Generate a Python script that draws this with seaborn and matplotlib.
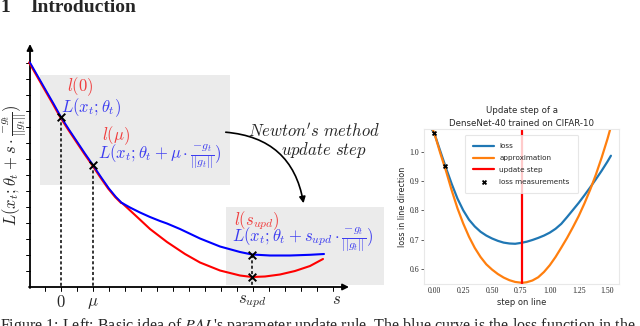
import numpy as np
import pandas as pd
import matplotlib
matplotlib.use("Agg")
import matplotlib.pyplot as plt
import seaborn as sns
from matplotlib.patches import Rectangle, FancyArrowPatch

# ---------------- data: right chart ----------------
step_blue = [-0.03, 0.0, 0.05, 0.1, 0.15, 0.2, 0.25, 0.3, 0.35, 0.4, 0.45, 0.5,
             0.55, 0.6, 0.65, 0.7, 0.75, 0.8, 0.85, 0.9, 0.95, 1.0, 1.05, 1.1,
             1.15, 1.2, 1.25, 1.3, 1.35, 1.4, 1.45, 1.5, 1.53]
loss_vals = [1.08, 1.062, 1.003, 0.945, 0.89, 0.84, 0.80, 0.768, 0.745, 0.727,
             0.714, 0.704, 0.696, 0.69, 0.687, 0.686, 0.689, 0.693, 0.699, 0.706,
             0.714, 0.724, 0.737, 0.754, 0.777, 0.801, 0.825, 0.851, 0.878, 0.906,
             0.935, 0.966, 0.986]
step_orange = [-0.02, 0.0, 0.05, 0.1, 0.15, 0.2, 0.25, 0.3, 0.35, 0.4, 0.45, 0.5,
               0.55, 0.6, 0.65, 0.7, 0.76, 0.8, 0.85, 0.9, 0.95, 1.0, 1.05, 1.1,
               1.15, 1.2, 1.25, 1.3, 1.35, 1.4, 1.45, 1.5, 1.525]
approx_vals = [1.08, 1.062, 0.996, 0.935, 0.868, 0.807, 0.755, 0.71, 0.672, 0.641,
               0.616, 0.598, 0.583, 0.571, 0.562, 0.556, 0.553, 0.555, 0.561, 0.572,
               0.59, 0.613, 0.641, 0.673, 0.706, 0.742, 0.78, 0.823, 0.87, 0.922,
               0.98, 1.043, 1.078]
update_step = 0.757
meas_steps = [0.0, 0.09]
meas_vals = [1.062, 0.95]
x_ticks = [0.00, 0.25, 0.50, 0.75, 1.00, 1.25, 1.50]
y_ticks = [0.6, 0.7, 0.8, 0.9, 1.0]

# ---------------- data: left schematic (diagram units) ----------------
shared_x = [30, 38, 46, 53.5, 61, 69, 77, 85, 93, 101, 109, 116, 122]
shared_y = [62.5, 76.5, 90.5, 103.5, 117, 129.5, 141.5, 153.5, 165, 177, 188.5, 197, 203]
blue_x = [122, 130, 140, 150, 160, 167, 180, 200, 220, 240, 252, 270, 290, 310, 324]
blue_y = [203, 207.5, 212.5, 217, 221, 223.5, 229, 238.5, 246.5, 252, 254.5, 255.5, 255.5, 254.8, 254]
red_x = [122, 135, 150, 167, 185, 200, 220, 240, 252, 265, 280, 295, 310, 323]
red_y = [203, 215, 229, 242, 254, 262.5, 270.5, 275.5, 277, 276.5, 274.5, 271, 266, 259]
probe_x = [61, 93]
probe_y = [117, 165]
upd_x = 252
upd_y = [254.5, 277]

sns.set_theme(style="white")
plt.rcParams['font.family'] = ['DejaVu Sans']

fig = plt.figure(figsize=(6.4, 3.26), dpi=100)

# overlay axes in pixel-like units for the schematic and page text
ov = fig.add_axes([0, 0, 1, 1])
ov.set_xlim(0, 640)
ov.set_ylim(326, 0)
ov.axis("off")
ov.patch.set_alpha(0)

serif = ["Liberation Serif", "DejaVu Serif"]
ov.text(0, 8, "1", fontsize=14, fontweight="bold", family=serif, va="center", ha="left")
ov.text(30, 8, "Introduction", fontsize=14, fontweight="bold", family=serif, va="center", ha="left")
ov.text(0, 316, "Figure 1: Left: Basic idea of $\\it{PAL}$'s parameter update rule. The blue curve is the loss function in the",
        fontsize=11.5, family=serif, va="top", ha="left", math_fontfamily="stix", clip_on=False)

# gray boxes
ov.add_patch(Rectangle((40, 75), 190, 110, facecolor="#ebebeb", edgecolor="none", zorder=0))
ov.add_patch(Rectangle((226, 207), 158, 78, facecolor="#ebebeb", edgecolor="none", zorder=0))

# axes arrows
ov.annotate("", xy=(30, 44), xytext=(30, 288), arrowprops=dict(arrowstyle="-|>", lw=1.3, color="black",
            mutation_scale=9, shrinkA=0, shrinkB=0), zorder=3)
ov.annotate("", xy=(349, 287), xytext=(29, 287), arrowprops=dict(arrowstyle="-|>", lw=1.3, color="black",
            mutation_scale=9, shrinkA=0, shrinkB=0), zorder=3)
for ty in np.arange(271, 60, -16):
    ov.plot([26, 30], [ty, ty], color="black", lw=0.7, zorder=3)
for tx in np.arange(45, 340, 16):
    ov.plot([tx, tx], [287, 291], color="black", lw=0.7, zorder=3)

# curves
ov.plot(red_x, red_y, color="red", lw=1.5, zorder=4, solid_joinstyle="round")
ov.plot(np.array(shared_x) - 0.8, shared_y, color="red", lw=1.6, zorder=4, solid_joinstyle="round")
ov.plot(shared_x, shared_y, color="blue", lw=1.3, zorder=5, solid_joinstyle="round")
ov.plot(blue_x, blue_y, color="blue", lw=1.5, zorder=5, solid_joinstyle="round")

# dotted guides and markers
for px, py in zip(probe_x, probe_y):
    ov.plot([px, px], [py, 287], color="black", lw=1.1, ls=(0, (2, 1.5)), zorder=3)
ov.plot([upd_x, upd_x], [upd_y[0], 287], color="black", lw=1.1, ls=(0, (2, 1.5)), zorder=3)
ov.scatter(probe_x + [upd_x, upd_x], probe_y + upd_y, marker="x", s=30, color="black", lw=1.4, zorder=6)

mf = "cm"
red_t = "#f03c3c"
blue_t = "#3c3cf0"
fs = 12
ov.text(67, 87, r"$l(0)$", color=red_t, fontsize=fs, va="center", math_fontfamily=mf)
ov.text(61, 108, r"$L(x_t;\theta_t)$", color=blue_t, fontsize=fs, va="center", math_fontfamily=mf)
ov.text(102, 136, r"$l(\mu)$", color=red_t, fontsize=fs, va="center", math_fontfamily=mf)
ov.text(98, 157, r"$L(x_t;\theta_t+\mu\cdot\frac{-g_t}{||g_t||})$", color=blue_t, fontsize=fs, va="center", math_fontfamily=mf)
ov.text(234, 221, r"$l(s_{upd})$", color=red_t, fontsize=fs, va="center", math_fontfamily=mf)
ov.text(232, 240, r"$L(x_t;\theta_t+s_{upd}\cdot\frac{-g_t}{||g_t||})$", color=blue_t, fontsize=fs, va="center", math_fontfamily=mf)
ov.text(314, 132, r"$Newton's\ method$", fontsize=fs, ha="center", va="center", math_fontfamily=mf)
ov.text(324, 150, r"$update\ step$", fontsize=fs, ha="center", va="center", math_fontfamily=mf)
ov.text(15, 165, r"$L(x_t;\theta_t+s\cdot\frac{-g_t}{||g_t||})$", fontsize=12, ha="center", va="center",
        rotation=90, math_fontfamily=mf)
ov.text(61, 302, r"$0$", fontsize=fs, ha="center", va="center", math_fontfamily=mf)
ov.text(93, 302, r"$\mu$", fontsize=fs, ha="center", va="center", math_fontfamily=mf)
ov.text(252, 301, r"$s_{upd}$", fontsize=fs, ha="center", va="center", math_fontfamily=mf)
ov.text(337, 299, r"$s$", fontsize=fs, ha="center", va="center", math_fontfamily=mf)

arrow = FancyArrowPatch((223, 132), (304, 206), connectionstyle="arc3,rad=-0.4",
                        arrowstyle="-|>", mutation_scale=9, lw=1.2, color="black", zorder=6)
ov.add_patch(arrow)

# ---------------- right chart ----------------
ax = fig.add_axes([424 / 640, 1 - 284 / 326, 195 / 640, 155 / 326])
df = pd.DataFrame({
    "step": step_blue + step_orange,
    "val": loss_vals + approx_vals,
    "series": ["loss"] * len(step_blue) + ["approximation"] * len(step_orange),
})
sns.lineplot(data=df, x="step", y="val", hue="series", sort=False,
             palette={"loss": "#1f77b4", "approximation": "#ff7f0e"}, lw=1.6, ax=ax)
ax.axvline(update_step, color="red", lw=1.6, label="update step")
sns.scatterplot(x=meas_steps, y=meas_vals, marker="X", color="black", s=14, ax=ax,
                label="loss measurements", zorder=5, linewidth=0)
ax.set_xlim(-0.09, 1.6)
ax.set_ylim(0.549, 1.077)
ax.set_xticks(x_ticks)
ax.set_xticklabels([f"{v:.2f}" for v in x_ticks])
ax.set_yticks(y_ticks)
ax.set_yticklabels([f"{v:.1f}" for v in y_ticks])
for lab in ax.get_xticklabels() + ax.get_yticklabels():
    lab.set_family(serif)
    lab.set_fontsize(5.6)
ax.tick_params(axis="y", length=2, width=0.6, pad=1.5, color="#444444", left=True)
ax.tick_params(axis="x", length=0, pad=2.5)
for sp in ax.spines.values():
    sp.set_color("#e8e8e8")
    sp.set_linewidth(0.8)
ax.set_xlabel("step on line", fontsize=6, labelpad=2)
ax.set_ylabel("loss in line direction", fontsize=5.8, labelpad=2)
ax.set_title("Update step of a\nDenseNet-40 trained on CIFAR-10", fontsize=6.2, pad=2.5, linespacing=1.5)
h, l = ax.get_legend_handles_labels()
order = [l.index(n) for n in ["loss", "approximation", "update step", "loss measurements"]]
leg = ax.legend([h[i] for i in order], [l[i] for i in order], loc="upper center",
                bbox_to_anchor=(0.5, 0.985), fontsize=5.2, handlelength=2.9, handletextpad=0.7,
                labelspacing=0.8, borderpad=1.15, frameon=True)
leg.get_frame().set_edgecolor("#e0e0e0")
leg.get_frame().set_linewidth(0.8)

fig.savefig("out.png", dpi=100)
